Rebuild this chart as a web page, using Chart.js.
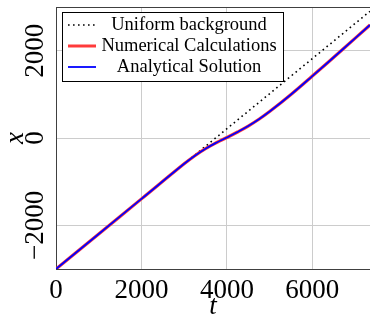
<!DOCTYPE html>
<html><head><meta charset="utf-8">
<script src="https://cdn.jsdelivr.net/npm/chart.js@4.4.0/dist/chart.umd.min.js"></script>
<style>html,body{margin:0;padding:0;background:#fff;overflow:hidden}</style>
</head><body>
<canvas id="c" width="370" height="320" style="width:370px;height:320px;display:block"></canvas>
<script>
const timeValues       = [0, 1000, 2000, 3000, 3250, 3500, 3750, 4000, 4250, 4500, 4750, 5000, 5500, 6000, 6700, 7350];
const numericalValues  = [-3000, -2197, -1394, -591, -405, -245, -109, 12, 138, 274, 429, 605, 997, 1418, 2020, 2587];
const analyticalValues = [-3000, -2197, -1394, -591, -405, -245, -109, 12, 138, 274, 429, 605, 997, 1418, 2020, 2587];
const uniformTimes  = [0, 7350];
const uniformValues = [-3000, 2902];
const seriesLabels = ['Uniform background', 'Numerical Calculations', 'Analytical Solution'];
const xTicks = [0, 2000, 4000, 6000];
const yTicks = [-2000, 0, 2000];
const xRange = [0, 7350];
const yRange = [-3000, 3000];
const xTitle = 't';
const yTitle = 'x';

const serif = 'Liberation Serif';
const fmt = v => v < 0 ? '\u2212' + Math.abs(v) : String(v);
const pts = (xs, ys) => xs.map((x, i) => ({x, y: ys[i]}));

const colors = {uniform: '#000000', numerical: '#ff3b3b', analytical: '#0000ff'};

const frameAndLegend = {
  id: 'frameAndLegend',
  afterDraw(chart) {
    const ctx = chart.ctx, a = chart.chartArea;
    ctx.save();
    ctx.strokeStyle = '#404040'; ctx.lineWidth = 1;
    ctx.beginPath(); ctx.moveTo(a.left, a.top + 0.5); ctx.lineTo(a.right, a.top + 0.5); ctx.stroke();
    const bx = 62.5, by = 12.5, bw = 221, bh = 69;
    ctx.fillStyle = '#fff'; ctx.fillRect(bx, by, bw, bh);
    ctx.strokeStyle = '#000'; ctx.lineWidth = 1; ctx.strokeRect(bx, by, bw, bh);
    const rows = [25, 46, 67];
    const styles = [
      {c: colors.uniform, w: 1.6, d: [1.6, 3.4]},
      {c: colors.numerical, w: 3, d: []},
      {c: colors.analytical, w: 1.8, d: []}
    ];
    ctx.font = '18.5px "' + serif + '"';
    ctx.textAlign = 'center'; ctx.textBaseline = 'middle'; ctx.fillStyle = '#000';
    rows.forEach((y, i) => {
      const s = styles[i];
      ctx.strokeStyle = s.c; ctx.lineWidth = s.w; ctx.setLineDash(s.d);
      ctx.beginPath(); ctx.moveTo(68, y); ctx.lineTo(96, y); ctx.stroke();
      ctx.setLineDash([]);
      ctx.fillText(seriesLabels[i], 189, y);
    });
    ctx.restore();
  }
};

new Chart(document.getElementById('c'), {
  type: 'line',
  data: {
    datasets: [
      {label: seriesLabels[2], data: pts(timeValues, analyticalValues), borderColor: colors.analytical, borderWidth: 1.8, order: 0, tension: 0.4},
      {label: seriesLabels[1], data: pts(timeValues, numericalValues), borderColor: colors.numerical, borderWidth: 3.2, order: 1, tension: 0.4},
      {label: seriesLabels[0], data: pts(uniformTimes, uniformValues), borderColor: colors.uniform, borderWidth: 1.6, borderDash: [1.6, 3.4], order: 2}
    ]
  },
  options: {
    responsive: false,
    animation: false,
    events: [],
    layout: {padding: {top: 7, left: 0, right: 0, bottom: 0}},
    elements: {point: {radius: 0}, line: {fill: false}},
    plugins: {legend: {display: false}, tooltip: {enabled: false}},
    scales: {
      x: {
        type: 'linear', min: xRange[0], max: xRange[1],
        afterBuildTicks: s => { s.ticks = xTicks.map(v => ({value: v})); },
        afterFit: s => { s.height = 51; s.paddingLeft = 0; s.paddingRight = 0; },
        grid: {color: '#cccccc', lineWidth: 1, drawTicks: false},
        border: {color: '#404040', width: 1},
        ticks: {padding: 6, color: '#000', font: {family: serif, size: 27}, callback: v => fmt(v), maxRotation: 0, autoSkip: false},
        title: {display: true, text: xTitle, color: '#000', font: {family: serif, size: 27, style: 'italic', lineHeight: 1}, padding: 0}
      },
      y: {
        type: 'linear', min: yRange[0], max: yRange[1],
        afterBuildTicks: s => { s.ticks = yTicks.map(v => ({value: v})); },
        afterFit: s => { s.width = 56; s.paddingTop = 0; s.paddingBottom = 0; },
        grid: {color: '#cccccc', lineWidth: 1, drawTicks: false},
        border: {color: '#404040', width: 1},
        ticks: {padding: -15, minRotation: 90, maxRotation: 90, crossAlign: 'center', color: '#000', font: {family: serif, size: 27}, callback: v => fmt(v), autoSkip: false},
        title: {display: true, text: yTitle, color: '#000', font: {family: serif, size: 27, style: 'italic', lineHeight: 1}, padding: {top: 2, bottom: 0}}
      }
    }
  },
  plugins: [frameAndLegend]
});
</script>
</body></html>
